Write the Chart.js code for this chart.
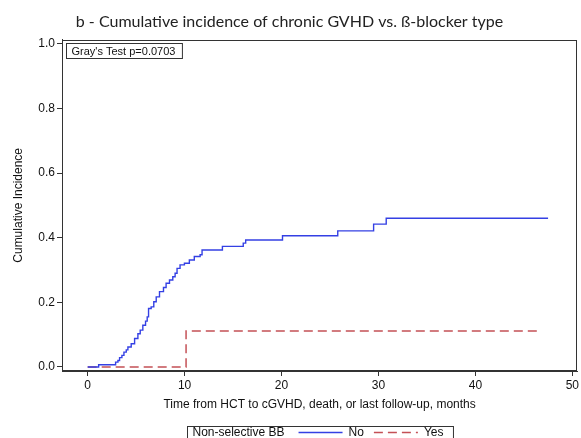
<!DOCTYPE html>
<html>
<head>
<meta charset="utf-8">
<script src="https://cdn.jsdelivr.net/npm/chart.js@4/dist/chart.umd.min.js"></script>
<style>
  html, body { margin: 0; padding: 0; background: #fff; }
  #wrap { width: 581px; height: 438px; }
</style>
</head>
<body>
<div id="wrap"><canvas id="cif" width="581" height="438"></canvas></div>
<script>
(function () {
  'use strict';

  // Non-selective BB = No (time in months, cumulative incidence)
  const noTimes = [0, 1.13, 2.88, 3.12, 3.29, 3.53, 3.74, 3.98, 4.15, 4.49, 4.84, 5.18, 5.42, 5.69,
    5.97, 6.14, 6.28, 6.55, 6.82, 7.07, 7.41, 7.82, 8.09, 8.44, 8.78, 9.02, 9.22, 9.53, 9.98,
    10.49, 11.0, 11.6, 11.8, 13.9, 16.05, 16.3, 20.1, 25.8, 29.5, 30.8, 47.5];
  const noValues = [0, 0.007, 0.015, 0.020, 0.029, 0.036, 0.046, 0.053, 0.062, 0.072, 0.088, 0.103,
    0.114, 0.129, 0.142, 0.155, 0.181, 0.186, 0.202, 0.217, 0.233, 0.246, 0.259, 0.269, 0.279,
    0.290, 0.305, 0.316, 0.321, 0.331, 0.342, 0.347, 0.362, 0.373, 0.383, 0.393, 0.406, 0.421,
    0.442, 0.460, 0.460];

  // Non-selective BB = Yes
  const yesTimes = [0, 10.15, 46.8];
  const yesValues = [0, 0.111, 0.111];

  const xTicks = [0, 10, 20, 30, 40, 50];
  const yTicks = [0, 0.2, 0.4, 0.6, 0.8, 1.0];

  const legendTitle = 'Non-selective BB';
  const seriesNames = ['No', 'Yes'];
  const testLabel = "Gray's Test p=0.0703";

  const axisFont = { family: "'Liberation Sans', Arial, sans-serif", size: 12 };
  const ink = '#111';

  function toPoints(xs, ys) {
    return xs.map((x, i) => ({ x: x, y: ys[i] }));
  }

  // frame, test box and the legend at the bottom
  const extras = {
    id: 'extras',
    afterDraw(chart) {
      const ctx = chart.ctx;
      const a = chart.chartArea;
      ctx.save();
      ctx.strokeStyle = '#333';
      ctx.lineWidth = 1;
      ctx.strokeRect(Math.round(a.left) + 0.5, Math.round(a.top) + 0.5,
        Math.round(a.right - a.left) - 1, Math.round(a.bottom - a.top) - 1);

      // Gray's test box
      ctx.font = "11px 'Liberation Sans', Arial, sans-serif";
      const tw = ctx.measureText(testLabel).width;
      const bx = Math.round(a.left) + 4.5, by = Math.round(a.top) + 3.5;
      ctx.fillStyle = '#fff';
      ctx.fillRect(bx, by, tw + 12, 15);
      ctx.strokeStyle = '#333';
      ctx.strokeRect(bx, by, tw + 12, 15);
      ctx.fillStyle = ink;
      ctx.textBaseline = 'middle';
      ctx.textAlign = 'left';
      ctx.fillText(testLabel, bx + 5, by + 8);

      // legend
      ctx.font = "12px 'Liberation Sans', Arial, sans-serif";
      const ly = 432.5;
      const lx = 187.5;
      let x = lx + 5;
      ctx.fillText(legendTitle, x, ly);
      x += ctx.measureText(legendTitle).width + 14;
      const ds = chart.data.datasets;
      for (let i = 0; i < ds.length; i++) {
        ctx.beginPath();
        ctx.strokeStyle = ds[i].borderColor;
        ctx.lineWidth = ds[i].borderWidth;
        ctx.setLineDash(ds[i].borderDash || []);
        ctx.moveTo(x, ly);
        ctx.lineTo(x + 44, ly);
        ctx.stroke();
        ctx.setLineDash([]);
        x += 50;
        ctx.fillStyle = ink;
        ctx.fillText(seriesNames[i], x, ly);
        x += ctx.measureText(seriesNames[i]).width + 10;
      }
      ctx.strokeStyle = '#333';
      ctx.lineWidth = 1;
      ctx.strokeRect(lx, 426.5, x - lx, 20);
      ctx.restore();
    }
  };

  new Chart(document.getElementById('cif').getContext('2d'), {
    type: 'line',
    data: {
      datasets: [{
        label: seriesNames[0],
        data: toPoints(noTimes, noValues),
        borderColor: 'rgb(52, 64, 228)',
        borderWidth: 1.4,
        stepped: true,
        pointRadius: 0,
        fill: false
      }, {
        label: seriesNames[1],
        data: toPoints(yesTimes, yesValues),
        borderColor: 'rgb(196, 80, 86)',
        borderWidth: 1.5,
        borderDash: [9, 5],
        stepped: true,
        pointRadius: 0,
        fill: false
      }]
    },
    options: {
      responsive: false,
      animation: false,
      layout: { padding: { left: 0, right: 2, top: 0, bottom: 25 } },
      plugins: {
        legend: { display: false },
        tooltip: { enabled: false },
        title: {
          display: true,
          text: 'b - Cumulative incidence of chronic GVHD vs. ß-blocker type',
          color: '#222',
          font: { family: "Lato, 'Open Sans', sans-serif", size: 16, weight: 'normal' },
          padding: { top: 12.5, bottom: 8 }
        }
      },
      scales: {
        x: {
          type: 'linear',
          min: -2.65,
          max: 50.5,
          afterBuildTicks: s => { s.ticks = xTicks.map(v => ({ value: v })); },
          afterFit: s => { s.height = 42; },
          grid: { display: true, drawOnChartArea: false, drawTicks: true, tickLength: 5, color: '#333' },
          border: { display: true, color: '#333', width: 1 },
          ticks: { color: ink, font: axisFont, padding: 2, maxRotation: 0 },
          title: {
            display: true,
            text: 'Time from HCT to cGVHD, death, or last follow-up, months',
            color: ink,
            font: axisFont,
            padding: { top: 0, bottom: 1 }
          }
        },
        y: {
          type: 'linear',
          min: -0.0124,
          max: 1.0124,
          afterBuildTicks: s => { s.ticks = yTicks.map(v => ({ value: v })); },
          afterFit: s => { s.width = 62; },
          grid: { display: true, drawOnChartArea: false, drawTicks: true, tickLength: 5, color: '#333' },
          border: { display: true, color: '#333', width: 1 },
          ticks: { color: ink, font: axisFont, padding: 2, callback: v => v.toFixed(1) },
          title: {
            display: true,
            text: 'Cumulative Incidence',
            color: ink,
            font: axisFont,
            padding: { top: 11, bottom: 0 }
          }
        }
      }
    },
    plugins: [extras]
  });
})();
</script>
</body>
</html>
